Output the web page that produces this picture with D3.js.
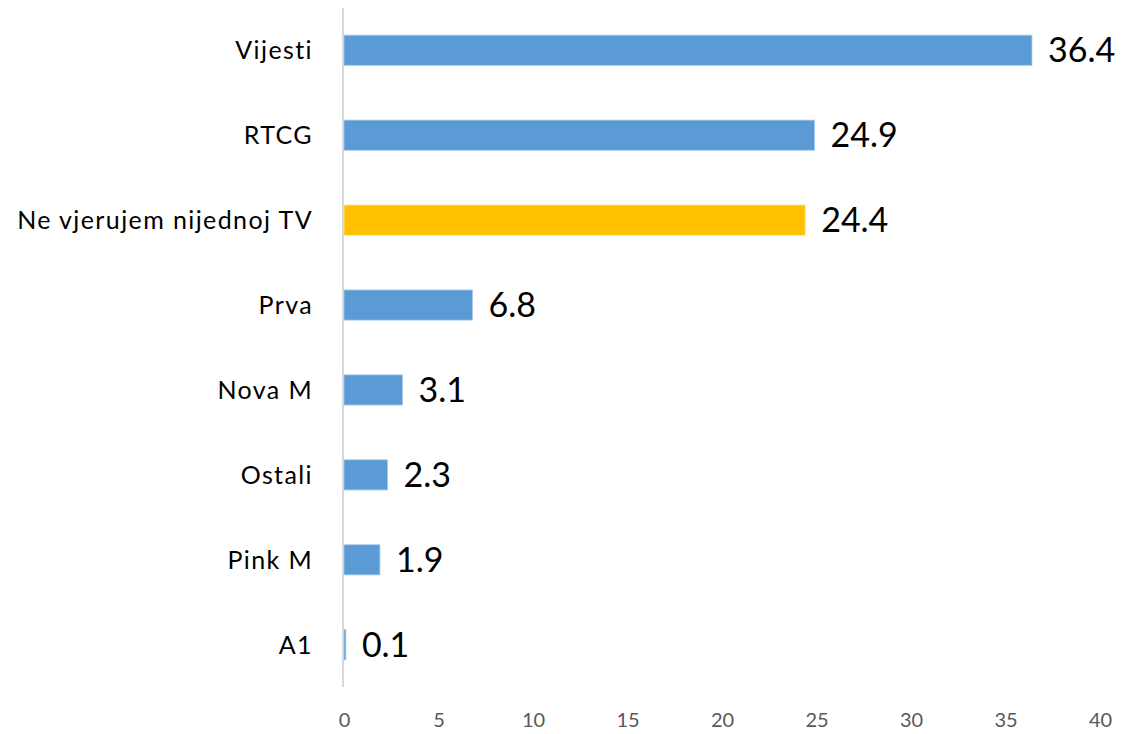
<!DOCTYPE html>
<html><head><meta charset="utf-8">
<script src="https://cdn.jsdelivr.net/npm/d3@7"></script>
<style>body{margin:0;background:#fff;} svg{display:block;}</style>
</head><body>
<svg id="chart" width="1122" height="734"></svg>
<script>
const categories = ["Vijesti","RTCG","Ne vjerujem nijednoj TV","Prva","Nova M","Ostali","Pink M","A1"];
const values = [36.4,24.9,24.4,6.8,3.1,2.3,1.9,0.1];
const highlight = ["Ne vjerujem nijednoj TV"];
const tickValues = [0,5,10,15,20,25,30,35,40];

const svg = d3.select("#chart");
const font = "Lato, 'Open Sans', sans-serif";
const x = d3.scaleLinear().domain([0,40]).range([344,1100]);
const y = d3.scaleBand().domain(categories).range([8,687]).paddingInner(0.645).paddingOuter(0.32);

// vertical axis line
svg.append("line").attr("x1",343).attr("x2",343).attr("y1",8).attr("y2",687)
  .attr("stroke","#d9d9d9").attr("stroke-width",2);

// bars
svg.selectAll("rect.bar").data(categories).join("rect")
  .attr("class","bar")
  .attr("x",x(0))
  .attr("y",d=>y(d))
  .attr("width",(d,i)=>x(values[i])-x(0))
  .attr("height",y.bandwidth())
  .attr("fill",d=>highlight.includes(d)?"#ffc000":"#5b9bd5")
  .attr("stroke",d=>highlight.includes(d)?"#ffe08a":"#a9c9ea")
  .attr("stroke-width",0.8);

// value labels
svg.selectAll("text.val").data(categories).join("text")
  .attr("class","val")
  .attr("x",(d,i)=>x(values[i])+16)
  .attr("y",d=>y(d)+y.bandwidth()/2)
  .attr("dy","0.36em")
  .attr("font-family",font).attr("font-size",34).attr("fill","#000")
  .text((d,i)=>values[i].toFixed(1));

// category labels
svg.selectAll("text.cat").data(categories).join("text")
  .attr("class","cat")
  .attr("x",313)
  .attr("y",d=>y(d)+y.bandwidth()/2)
  .attr("dy","0.36em")
  .attr("text-anchor","end")
  .attr("font-family",font).attr("font-size",25).attr("letter-spacing","1.4px").attr("fill","#000")
  .text(d=>d);

// x axis tick labels
const xAxis = d3.axisBottom(x).tickValues(tickValues).tickSize(0).tickPadding(0).tickFormat(d3.format("d"));
const gx = svg.append("g").attr("transform","translate(0,713)").call(xAxis);
gx.select(".domain").remove();
gx.selectAll("text").attr("font-family",font).attr("font-size",20).attr("fill","#595959");
</script>
</body></html>
